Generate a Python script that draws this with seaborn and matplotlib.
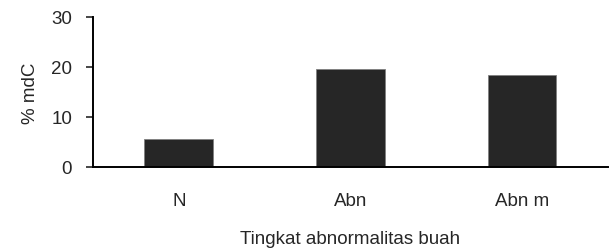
import pandas as pd
import matplotlib.pyplot as plt
import seaborn as sns

# Data
kategori = ['N', 'Abn', 'Abn m']
persen_mdc = [5.6, 19.6, 18.4]

df = pd.DataFrame({'kategori': kategori, 'mdc': persen_mdc})

sns.set_style('white')
plt.rcParams['font.family'] = ['Liberation Sans', 'DejaVu Sans']

fig = plt.figure(figsize=(6.12, 2.53), dpi=100)
ax = fig.add_axes([0.152, 0.336, 0.841, 0.593])

sns.barplot(data=df, x='kategori', y='mdc', color='#262626', width=0.4,
            edgecolor='#808080', linewidth=0.6, saturation=1, ax=ax)

ax.set_ylim(0, 30)
ax.set_xlim(-0.5, 2.5)
ax.set_yticks([0, 10, 20, 30])
ax.set_xlabel('Tingkat abnormalitas buah', fontsize=13.5, labelpad=15)
ax.set_ylabel('% mdC', fontsize=13.5, labelpad=9)

# Sumbu
sns.despine(ax=ax)
for s in ['left', 'bottom']:
    ax.spines[s].set_linewidth(1.4)
    ax.spines[s].set_color('black')
ax.tick_params(axis='y', length=5, width=1.2, direction='out', labelsize=13.5, left=True, pad=10)
ax.tick_params(axis='x', length=0, labelsize=13.5, pad=18)

fig.savefig('out.png', dpi=100)
